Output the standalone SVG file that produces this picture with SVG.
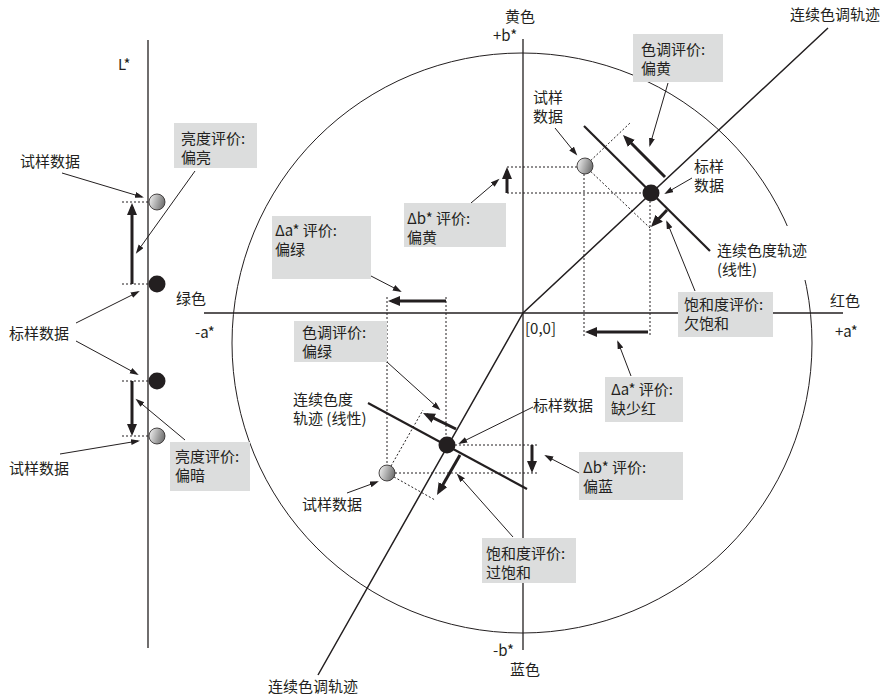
<svg xmlns="http://www.w3.org/2000/svg" width="888" height="698" viewBox="0 0 888 698">
<defs>
<style>
text{font-family:"Noto Sans CJK SC","Open Sans",sans-serif;font-size:15px;fill:#231f20}
.ax{stroke:#231f20;stroke-width:1.3;fill:none}
.thin{stroke:#231f20;stroke-width:1;fill:none;marker-end:url(#ah)}
.thick{stroke:#231f20;stroke-width:3;fill:none;marker-end:url(#AH)}
.dot{stroke:#231f20;stroke-width:1;stroke-dasharray:2,2;fill:none}
.box{fill:#dcdddd}
.std{fill:#231f20}
.smp{fill:url(#g);stroke:#231f20;stroke-width:0.8}
</style>
<linearGradient id="g" x1="0" y1="0" x2="1" y2="0.3">
<stop offset="0" stop-color="#f8f8f8"/><stop offset="1" stop-color="#777"/>
</linearGradient>
<marker id="ah" markerUnits="userSpaceOnUse" markerWidth="10" markerHeight="7" refX="7" refY="3" orient="auto">
<path d="M0,0 L9,3 L0,6 z" fill="#231f20"/>
</marker>
<marker id="AH" markerUnits="userSpaceOnUse" markerWidth="13" markerHeight="11" refX="8" refY="5" orient="auto">
<path d="M0,0 L12,5 L0,10 z" fill="#231f20"/>
</marker>
</defs>
<rect width="888" height="698" fill="#fff"/>

<g id="axes">
<circle cx="522" cy="343" r="290" stroke="#231f20" stroke-width="1" fill="none"/>
<line class="ax" x1="204" y1="313" x2="843" y2="313"/>
<line class="ax" x1="523" y1="39" x2="523" y2="650"/>
<line class="ax" x1="148" y1="40" x2="148" y2="648"/>
<polyline points="318,675 523,313 828,28" fill="none" stroke="#231f20" stroke-width="1.5"/>
<line x1="584" y1="126" x2="710" y2="251" stroke="#231f20" stroke-width="2.2"/>
<line x1="368" y1="403" x2="527" y2="489" stroke="#231f20" stroke-width="2.2"/>
</g>

<g id="connectors">
<line class="dot" x1="122" y1="202" x2="148" y2="202"/>
<line class="dot" x1="122" y1="284" x2="148" y2="284"/>
<line class="dot" x1="122" y1="381" x2="148" y2="381"/>
<line class="dot" x1="122" y1="436" x2="148" y2="436"/>
<line class="dot" x1="507" y1="167" x2="585" y2="167"/>
<line class="dot" x1="507" y1="193" x2="651" y2="193"/>
<line class="dot" x1="585" y1="166" x2="630" y2="123"/>
<line class="dot" x1="585" y1="166" x2="650" y2="228"/>
<line class="dot" x1="584" y1="166" x2="584" y2="337"/>
<line class="dot" x1="650" y1="193" x2="650" y2="337"/>
<line class="dot" x1="387" y1="297" x2="387" y2="473"/>
<line class="dot" x1="446" y1="297" x2="446" y2="445"/>
<line class="dot" x1="447" y1="445" x2="538" y2="445"/>
<line class="dot" x1="387" y1="473" x2="538" y2="473"/>
<line class="dot" x1="387" y1="473" x2="423" y2="410"/>
<line class="dot" x1="387" y1="473" x2="435" y2="500"/>

<line class="thick" x1="132" y1="284" x2="132" y2="207"/>
<line class="thick" x1="132" y1="381" x2="132" y2="432"/>
<line class="thick" x1="446" y1="301" x2="392" y2="301"/>
<line class="thick" x1="507" y1="193" x2="507" y2="171"/>
<line class="thick" x1="665" y1="177" x2="625.8" y2="137.8"/>
<line class="thick" x1="667" y1="210" x2="653.7" y2="224.1"/>
<line class="thick" x1="648" y1="332" x2="589" y2="332"/>
<line class="thick" x1="456" y1="429" x2="426.6" y2="414.7"/>
<line class="thick" x1="460" y1="455" x2="439" y2="491.5"/>
<line class="thick" x1="532" y1="445" x2="532" y2="469"/>

<line class="thin" x1="62" y1="173" x2="142" y2="197"/>
<line class="thin" x1="195" y1="171" x2="137" y2="252"/>
<line class="thin" x1="76" y1="323" x2="138" y2="292"/>
<line class="thin" x1="76" y1="341" x2="137" y2="374"/>
<line class="thin" x1="60" y1="454" x2="138" y2="441"/>
<line class="thin" x1="185" y1="440" x2="137" y2="400"/>
<line class="thin" x1="371" y1="276" x2="400" y2="291"/>
<line class="thin" x1="471" y1="203" x2="498" y2="180"/>
<line class="thin" x1="668" y1="83" x2="650" y2="145"/>
<line class="thin" x1="555" y1="128" x2="576" y2="154"/>
<line class="thin" x1="692" y1="178" x2="666" y2="193"/>
<line class="thin" x1="695" y1="291" x2="667" y2="222"/>
<line class="thin" x1="631" y1="376" x2="618" y2="342"/>
<line class="thin" x1="533" y1="407" x2="460" y2="443"/>
<line class="thin" x1="579" y1="473" x2="546" y2="456"/>
<line class="thin" x1="387" y1="362" x2="439" y2="409"/>
<line class="thin" x1="347" y1="493" x2="377" y2="482"/>
<line class="thin" x1="513" y1="537" x2="458" y2="475"/>
</g>

<g id="points">
<circle id="L-sample-top" class="smp" cx="157" cy="202" r="8"/>
<circle id="L-std-top" class="std" cx="157" cy="284" r="8.5"/>
<circle id="L-std-bot" class="std" cx="157" cy="381" r="8.5"/>
<circle id="L-sample-bot" class="smp" cx="157" cy="436" r="8"/>
<circle id="ab-sample-up" class="smp" cx="585" cy="166" r="8"/>
<circle id="ab-std-up" class="std" cx="651" cy="193" r="8.5"/>
<circle id="ab-std-low" class="std" cx="447" cy="445" r="8.5"/>
<circle id="ab-sample-low" class="smp" cx="387" cy="473" r="8"/>
</g>

<g id="labels">
<text x="118" y="70">L*</text>
<text x="20" y="167">试样数据</text>
<text x="9" y="339">标样数据</text>
<text x="9" y="474">试样数据</text>
<text x="176" y="304">绿色</text>
<text x="195" y="338">-a*</text>
<text x="505" y="22">黄色</text>
<text x="493" y="41">+b*</text>
<text x="790" y="20">连续色调轨迹</text>
<text x="533" y="103">试样</text>
<text x="533" y="122">数据</text>
<text x="694" y="172">标样</text>
<text x="694" y="191">数据</text>
<text x="830" y="306">红色</text>
<text x="835" y="337">+a*</text>
<text x="525" y="334">[0,0]</text>
<text x="533" y="411">标样数据</text>
<text x="293" y="405">连续色度</text>
<text x="293" y="424">轨迹 (线性)</text>
<text x="302" y="510">试样数据</text>
<text x="493" y="656">-b*</text>
<text x="510" y="675">蓝色</text>
<text x="268" y="692">连续色调轨迹</text>
</g>

<g id="chroma-track-label">
<rect x="712" y="226" width="104" height="54" fill="#fff"/>
<text x="717" y="256">连续色度轨迹</text>
<text x="717" y="275">(线性)</text>
</g>

<g id="box-L-light">
<rect class="box" x="174" y="123" width="83" height="45"/>
<text x="181" y="144">亮度评价:</text>
<text x="181" y="163">偏亮</text>
</g>
<g id="box-L-dark">
<rect class="box" x="170" y="442" width="80" height="49"/>
<text x="175" y="462">亮度评价:</text>
<text x="175" y="481">偏暗</text>
</g>
<g id="box-da-green">
<rect class="box" x="272" y="216" width="99" height="63"/>
<text x="275" y="236">Δa* 评价:</text>
<text x="275" y="255">偏绿</text>
</g>
<g id="box-db-yellow">
<rect class="box" x="404" y="203" width="102" height="44"/>
<text x="407" y="224">Δb* 评价:</text>
<text x="407" y="243">偏黄</text>
</g>
<g id="box-hue-yellow">
<rect class="box" x="633" y="34" width="90" height="48"/>
<text x="641" y="55">色调评价:</text>
<text x="641" y="74">偏黄</text>
</g>
<g id="box-sat-under">
<rect class="box" x="678" y="292" width="95" height="45"/>
<text x="684" y="310">饱和度评价:</text>
<text x="684" y="329">欠饱和</text>
</g>
<g id="box-da-red">
<rect class="box" x="605" y="377" width="78" height="45"/>
<text x="611" y="395">Δa* 评价:</text>
<text x="611" y="414">缺少红</text>
</g>
<g id="box-hue-green">
<rect class="box" x="294" y="321" width="93" height="41"/>
<text x="302" y="338">色调评价:</text>
<text x="302" y="357">偏绿</text>
</g>
<g id="box-db-blue">
<rect class="box" x="579" y="452" width="104" height="48"/>
<text x="583" y="473">Δb* 评价:</text>
<text x="583" y="492">偏蓝</text>
</g>
<g id="box-sat-over">
<rect class="box" x="482" y="538" width="94" height="45"/>
<text x="486" y="559">饱和度评价:</text>
<text x="486" y="578">过饱和</text>
</g>
</svg>
